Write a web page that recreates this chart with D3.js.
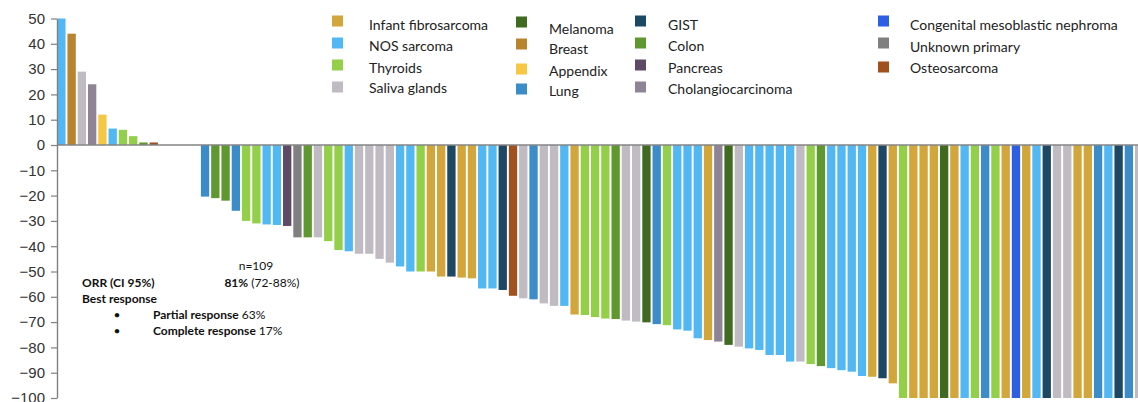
<!DOCTYPE html>
<html>
<head>
<meta charset="utf-8">
<script src="https://cdn.jsdelivr.net/npm/d3@7"></script>
<style>
  html, body { margin: 0; padding: 0; background: #fff; }
  svg { display: block; }
</style>
</head>
<body>
<svg id="chart" width="1138" height="402"></svg>
<script>
// ---- DATA ----
const categories = ["Infant fibrosarcoma","NOS sarcoma","Thyroids","Saliva glands",
  "Melanoma","Breast","Appendix","Lung",
  "GIST","Colon","Pancreas","Cholangiocarcinoma",
  "Congenital mesoblastic nephroma","Unknown primary","Osteosarcoma"];
const categoryColors = ["#d2a63a","#51b8f4","#93cf48","#c0bbc3",
  "#3f6a20","#b8842d","#f6c742","#3b8cc9",
  "#1c4864","#5e982f","#5d4a66","#8f8396",
  "#2c5fe4","#808080","#a0511d"];
// category per patient (null = 0% change, no bar)
const patientCategory = [
  "NOS sarcoma","Breast","Saliva glands","Cholangiocarcinoma","Appendix","NOS sarcoma","Thyroids","Thyroids","Colon","Osteosarcoma",
  null,null,null,null,
  "Lung","Colon","Colon","Lung","Thyroids","Thyroids","NOS sarcoma","NOS sarcoma","Pancreas","Unknown primary",
  "Colon","Saliva glands","Thyroids","Thyroids","NOS sarcoma","Saliva glands","Saliva glands","Saliva glands","Saliva glands","NOS sarcoma",
  "NOS sarcoma","Thyroids","Infant fibrosarcoma","Infant fibrosarcoma","GIST","Infant fibrosarcoma","Infant fibrosarcoma","NOS sarcoma","NOS sarcoma","GIST",
  "Osteosarcoma","Saliva glands","Lung","Saliva glands","Saliva glands","NOS sarcoma","Infant fibrosarcoma","Thyroids","Thyroids","Thyroids",
  "Colon","Saliva glands","Saliva glands","Melanoma","Lung","Thyroids","NOS sarcoma","NOS sarcoma","NOS sarcoma","Infant fibrosarcoma",
  "Cholangiocarcinoma","Melanoma","Saliva glands","NOS sarcoma","NOS sarcoma","NOS sarcoma","NOS sarcoma","NOS sarcoma","Saliva glands","Thyroids",
  "Colon","NOS sarcoma","NOS sarcoma","NOS sarcoma","NOS sarcoma","Infant fibrosarcoma","GIST","Infant fibrosarcoma","Thyroids","Infant fibrosarcoma",
  "Infant fibrosarcoma","Infant fibrosarcoma","Melanoma","Infant fibrosarcoma","NOS sarcoma","Thyroids","Lung","Thyroids","Infant fibrosarcoma","Congenital mesoblastic nephroma",
  "Infant fibrosarcoma","NOS sarcoma","GIST","Saliva glands","Saliva glands","Infant fibrosarcoma","Infant fibrosarcoma","Lung","NOS sarcoma","GIST",
  "Lung","Saliva glands"
];
// best % change from baseline per patient
const patientChange = [
  50,44,29,24,12,6.5,6,3.5,1,1,
  0,0,0,0,
  -20.4,-21,-22,-26,-30,-31,-31.4,-31.6,-32,-36.5,
  -36.5,-36.5,-38,-41.5,-42,-43,-43,-45,-46.5,-48,
  -50,-50,-50,-52,-52,-52.4,-52.7,-56.7,-56.7,-57.3,
  -59.6,-60.6,-61,-62.6,-63.6,-63.6,-67,-67.2,-68,-68.6,
  -68.8,-69.4,-69.8,-70.1,-70.8,-71.2,-72.9,-73.4,-76.4,-77.1,
  -77.7,-79,-79.7,-80.4,-81,-83,-83,-85.6,-85.6,-86.6,
  -87.4,-88.2,-89,-89.6,-91.3,-91.6,-92.2,-94.2,-100,-100,
  -100,-100,-100,-100,-100,-100,-100,-100,-100,-100,
  -100,-100,-100,-100,-100,-100,-100,-100,-100,-100,
  -100,-100
];
const yTicks = [50,40,30,20,10,0,-10,-20,-30,-40,-50,-60,-70,-80,-90,-100];
// legend layout: columns of category names
const legendColumns = [
  ["Infant fibrosarcoma","NOS sarcoma","Thyroids","Saliva glands"],
  ["Melanoma","Breast","Appendix","Lung"],
  ["GIST","Colon","Pancreas","Cholangiocarcinoma"],
  ["Congenital mesoblastic nephroma","Unknown primary","Osteosarcoma"]
];

// ---- CHART ----
const svg = d3.select("#chart");
const axisX = 57;
const pitch = 10.25;
const n = patientChange.length;

const color = d3.scaleOrdinal().domain(categories).range(categoryColors);
const x = d3.scaleBand()
  .domain(d3.range(n))
  .range([axisX, axisX + pitch * n])
  .paddingInner(0.19)
  .paddingOuter(0.02);
const y = d3.scaleLinear().domain([-100, 50]).range([398, 18.5]);

const data = patientChange.map((v, i) => ({ i, v, c: patientCategory[i] }));

svg.append("g").selectAll("rect")
  .data(data.filter(d => d.c !== null && d.v !== 0))
  .join("rect")
  .attr("x", d => x(d.i))
  .attr("width", x.bandwidth())
  .attr("y", d => y(Math.max(0, d.v)))
  .attr("height", d => Math.abs(y(d.v) - y(0)))
  .attr("fill", d => color(d.c));

// zero line
svg.append("line")
  .attr("x1", axisX).attr("x2", 1138)
  .attr("y1", y(0)).attr("y2", y(0))
  .attr("stroke", "#858585").attr("stroke-width", 1.6);

// y axis
const yAxis = svg.append("g")
  .attr("transform", `translate(${axisX},0)`)
  .call(d3.axisLeft(y).tickValues(yTicks).tickSize(6).tickPadding(6).tickSizeOuter(0));
yAxis.select(".domain").attr("stroke", "#808080").attr("stroke-width", 1.4);
yAxis.selectAll(".tick line").attr("stroke", "#808080").attr("stroke-width", 1.2);
yAxis.selectAll(".tick text")
  .attr("fill", "#333")
  .style("font-family", "'Liberation Sans', Arial, sans-serif")
  .style("font-size", "15px");

// legend
const legendFont = "Lato, 'Open Sans', sans-serif";
const colSwatchX = [332, 516, 635, 878];
const colTextX = [369, 549, 668, 910];
const rowSwatchY = [[21,43,65,87],[22,44,69,89],[21,43,65,87],[21,43,67]];
const rowTextY = [[25,46,68,88],[29,49,71,91],[25,46,68,89],[25,47,68]];
legendColumns.forEach((col, ci) => {
  const g = svg.append("g");
  col.forEach((name, ri) => {
    g.append("rect")
      .attr("x", colSwatchX[ci]).attr("y", rowSwatchY[ci][ri] - 5.5)
      .attr("width", 11).attr("height", 11)
      .attr("fill", color(name));
    g.append("text")
      .attr("x", colTextX[ci]).attr("y", rowTextY[ci][ri])
      .attr("dy", "0.35em")
      .attr("fill", "#222")
      .style("font-family", legendFont)
      .style("font-size", "14px")
      .text(name);
  });
});

// annotation
const ann = svg.append("g")
  .style("font-family", legendFont)
  .style("font-size", "12px")
  .attr("fill", "#111");
ann.append("text").attr("x", 82).attr("y", 283).attr("dy", "0.35em")
  .style("font-weight", "bold").text("ORR (CI 95%)");
ann.append("text").attr("x", 256).attr("y", 266).attr("dy", "0.35em")
  .attr("text-anchor", "middle").text("n=109");
const t81 = ann.append("text").attr("x", 262).attr("y", 283).attr("dy", "0.35em")
  .attr("text-anchor", "middle");
t81.append("tspan").style("font-weight", "bold").text("81%");
t81.append("tspan").text(" (72-88%)");
ann.append("text").attr("x", 82).attr("y", 299).attr("dy", "0.35em")
  .style("font-weight", "bold").text("Best response");
[["Partial response", " 63%", 315], ["Complete response", " 17%", 331]].forEach(([b, r, yy]) => {
  ann.append("text").attr("x", 117).attr("y", yy).attr("dy", "0.35em")
    .attr("text-anchor", "middle").text("•");
  const t = ann.append("text").attr("x", 153).attr("y", yy).attr("dy", "0.35em");
  t.append("tspan").style("font-weight", "bold").text(b);
  t.append("tspan").text(r);
});
</script>
</body>
</html>
